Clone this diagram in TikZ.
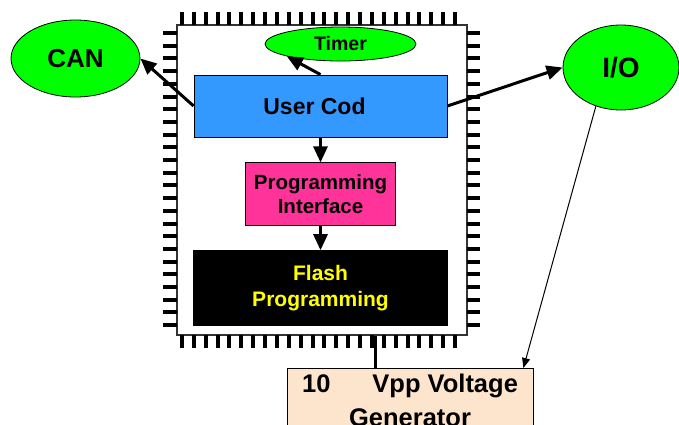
\documentclass[tikz,border=0pt]{standalone}
\usepackage{fontspec}
\setmainfont{Liberation Sans}
\usetikzlibrary{shapes,arrows.meta,positioning}

\definecolor{codeblue}{RGB}{51,153,255}
\definecolor{ifpink}{RGB}{255,51,153}
\definecolor{bubblegreen}{RGB}{0,255,0}
\definecolor{vpppeach}{RGB}{253,228,204}
\definecolor{flashyellow}{RGB}{255,255,0}

\begin{document}
\begin{tikzpicture}[x = 1pt, y = -1pt, >={Triangle[length = 16pt, width = 14pt]}, font = \bfseries, block/.style = {draw, line width = 0.8pt, align = center, inner sep = 0pt}, bubble/.style = {draw, ellipse, fill = bubblegreen, line width = 0.8pt, inner sep = 0pt}, wire/.style = {line width = 3pt}]
\useasboundingbox (0,0) rectangle (679,424);

% chip body with its pins
\node[draw = black!80, line width = 1.2pt, fill = white, minimum width = 290pt, minimum height = 310pt] (chip) at (322,180) {};
\foreach \i in {0,...,23} {
  \fill ({180 + 11.87*\i},12) rectangle ++(4,13);
  \fill ({180 + 11.87*\i},335) rectangle ++(4,13);
  \fill (163,{31 + 12.7*\i}) rectangle ++(14,4);
  \fill (467,{31 + 12.7*\i}) rectangle ++(13,4);
}

\node[block, fill = codeblue, minimum width = 253pt, minimum height = 62pt, font = \bfseries\fontsize{23}{26}\selectfont] (usercode) at (320.5,106) {User Cod\hspace{12pt}};
\node[bubble, minimum width = 151pt, minimum height = 34pt, font = \bfseries\fontsize{19.5}{22}\selectfont] (timer) at (340.5,44) {Timer};
\node[block, fill = ifpink, minimum width = 150pt, minimum height = 63pt, below = 25pt of usercode, font = \bfseries\fontsize{20.5}{24}\selectfont] (progif) {Programming\\Interface};
\node[block, fill = black, text = flashyellow, minimum width = 254pt, minimum height = 75pt, below = 24pt of progif, font = \bfseries\fontsize{21}{26}\selectfont] (flash) {Flash\\Programming};

\node[bubble, minimum width = 129pt, minimum height = 77pt, font = \bfseries\fontsize{26}{30}\selectfont] (can) at (75.5,58.5) {CAN};
\node[bubble, minimum width = 116pt, minimum height = 85pt, font = \bfseries\fontsize{28}{32}\selectfont] (io) at (621,67.5) {I/O};

\node[block, fill = vpppeach, anchor = north, minimum width = 246pt, inner ysep = 6pt, font = \bfseries\fontsize{25.5}{34}\selectfont] (vpp) at (410,368) {10\hspace{42pt}Vpp Voltage\\Generator};

\draw[->, wire] (usercode.north) -- (timer.south west);
\draw[->, wire] (usercode.west) -- (can.east);
\draw[->, wire] (usercode.east) -- (io.west);
\draw[->, wire] (usercode.south) -- (progif.north);
\draw[->, wire] (progif.south) -- (flash.north);
\draw[-{Triangle[length = 10pt, width = 8pt]}, line width = 1pt] (io.237) -- ([xshift = -10pt]vpp.north east);
\draw[wire] ([xshift = -35pt]vpp.north) -- ([xshift = -35pt]vpp.north |- chip.south);
\end{tikzpicture}
\end{document}
